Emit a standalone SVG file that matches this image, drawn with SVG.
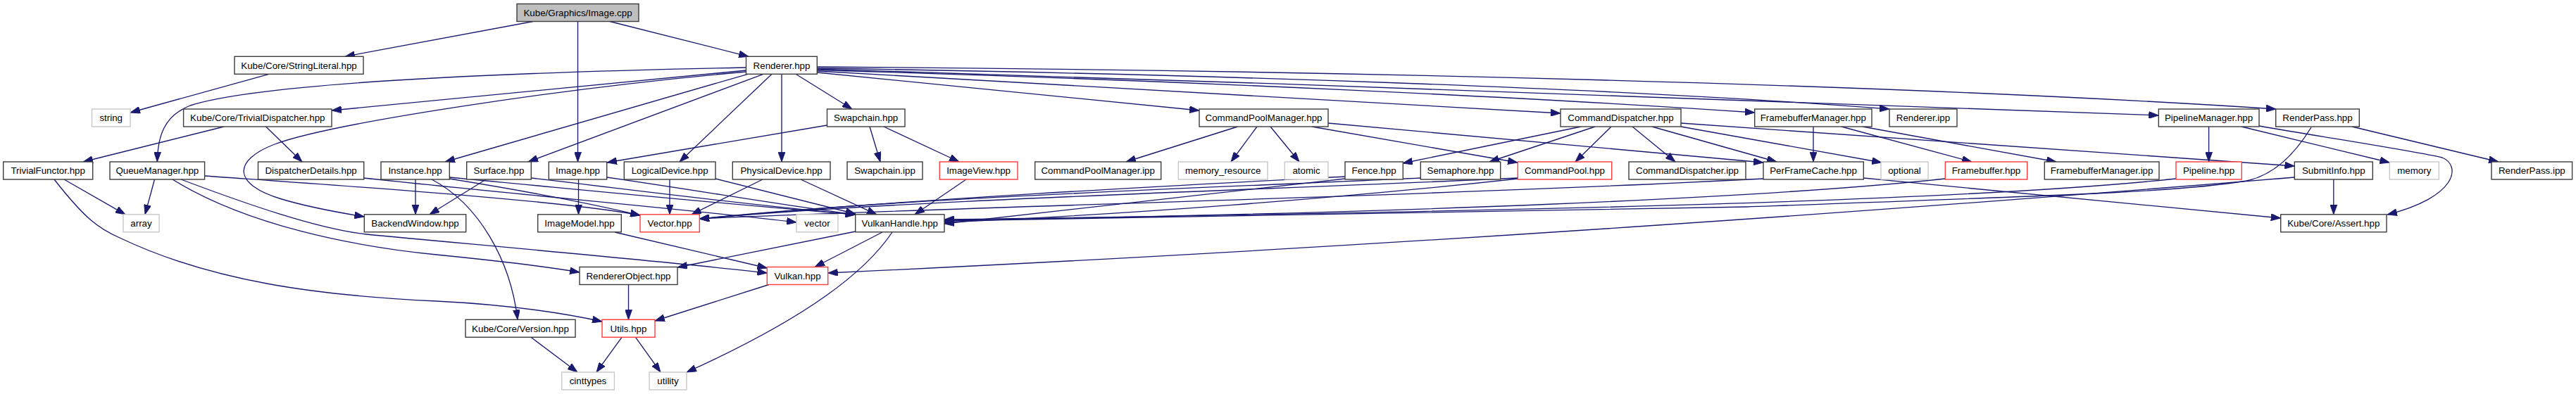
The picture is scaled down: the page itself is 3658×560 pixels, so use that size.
<svg xmlns="http://www.w3.org/2000/svg" width="3658" height="560" viewBox="0 0 3658 560">
<style>
.node rect{fill:#ffffff;stroke:#3c3c3c;stroke-width:1.4}
.node.red rect{stroke:#ff3a3a}
.node.gray rect{stroke:#c8c8c8}
.node.root rect{fill:#bfbfbf}
.node text{font-family:"Liberation Sans",Arial,Helvetica,sans-serif;font-size:13.33px;text-anchor:middle;fill:#000}
.edges path{fill:none;stroke:#191970;stroke-width:1.33;marker-end:url(#arr)}
</style>
<defs>
<marker id="arr" markerUnits="userSpaceOnUse" markerWidth="14" markerHeight="10" viewBox="0 0 13 9.4" refX="13" refY="4.7" orient="auto">
<path d="M0,0 L13,4.7 L0,9.4 z" fill="#191970" stroke="#191970" stroke-width="0.8"/>
</marker>
</defs>
<rect x="0" y="0" width="3658" height="560" fill="#ffffff"/>
<g class="edges" id="edges">
<path d="M757,30.5 L490,80.3"/>
<path d="M820.5,30.5 L820.5,230"/>
<path d="M866,30.5 L1063,80.3"/>
<path d="M382,105.3 L185,160"/>
<path d="M1059.5,96 C760,102 380,115 270,150 C232,165 224,195 223.3,230"/>
<path d="M1059.5,100 L471,157"/>
<path d="M1059.5,102 C800,125 470,175 390,205 C330,228 330,262 400,283 C440,295 480,302 517.3,308"/>
<path d="M1062,105.3 L632,230"/>
<path d="M1084,105.3 L750,230"/>
<path d="M1096,105.3 L965,230"/>
<path d="M1110,105.3 L1110,230"/>
<path d="M1130,105.3 L1210,155"/>
<path d="M1160.3,103 L1703,157"/>
<path d="M1160.3,101 L2216,161"/>
<path d="M1160.3,99.5 C1700,115 2200,140 2491.7,160"/>
<path d="M1160.3,97 C1700,105 2300,125 2683,155"/>
<path d="M1160.3,98 C1800,118 2600,145 3065.3,164"/>
<path d="M1160.3,95 C1900,100 2700,120 3232,155"/>
<path d="M1174.5,178 L862,231"/>
<path d="M1235,180 L1250,230"/>
<path d="M1255,180 L1362,230"/>
<path d="M1757.5,180 L1599,230"/>
<path d="M1785,180 L1748,230"/>
<path d="M1804,180 L1845,230"/>
<path d="M1863,180 L2155,231"/>
<path d="M1886,175 L2504,231"/>
<path d="M2245,180 L1992,232"/>
<path d="M2265,180 L2115,230"/>
<path d="M2288,180 L2237,230"/>
<path d="M2318,180 L2379,230"/>
<path d="M2346,180 L2523,230"/>
<path d="M2387,180 L2672,231"/>
<path d="M2387,175 C2700,195 3000,218 3258.3,236"/>
<path d="M2575,180 L2575,230"/>
<path d="M2615,180 L2800,230"/>
<path d="M2645,180 L2920,230"/>
<path d="M3136.6,180 L3136.6,230"/>
<path d="M3183,180 L3393.3,231"/>
<path d="M3208,179 C3300,195 3430,215 3468,224 C3495,235 3490,280 3390,305"/>
<path d="M3340,180 L3548,230"/>
<path d="M3282,181 C3255,225 3225,250 3190,257 C3100,272 2980,276 2480,294 L1341,314"/>
<path d="M3090,254 C2800,285 2200,300 1341,312"/>
<path d="M3258.3,252 C2800,290 2000,350 1175.7,388"/>
<path d="M3313.8,255 L3313.8,304.8"/>
<path d="M2646.3,253 L3238.7,310"/>
<path d="M2504,254 C2000,280 1300,296 993.3,311"/>
<path d="M2017.3,253 C1700,268 1300,280 993.3,311"/>
<path d="M2155.3,253 C1800,270 1300,283 993.3,311"/>
<path d="M1910,251 C1700,262 1300,282 993.3,311"/>
<path d="M1910,254 L1341,318"/>
<path d="M2155.3,254 C1900,282 1600,305 1341,316"/>
<path d="M2762.3,254 C2500,282 2000,303 1341,313"/>
<path d="M290.6,250 C500,265 800,285 909,306"/>
<path d="M516.7,253 C750,278 1000,300 1131,316"/>
<path d="M638.3,252 C850,272 1050,292 1214.7,305"/>
<path d="M638.3,254 C750,272 850,292 909,306"/>
<path d="M754.3,253 C900,270 1050,290 1214.7,305"/>
<path d="M861.7,252 C1000,272 1100,290 1214.7,305"/>
<path d="M1016,254 L1214.7,304"/>
<path d="M1137,255 L1245,304.8"/>
<path d="M1372,255 L1299,304.8"/>
<path d="M873,330 L1089.3,381"/>
<path d="M1253,330 L1157,379.5"/>
<path d="M1214.7,329 L962,380"/>
<path d="M1267,330 C1230,385 1150,450 975,529"/>
<path d="M245,255 C350,320 500,350 620,362 C700,370 770,378 823,387"/>
<path d="M257,255 C350,290 450,325 520,333 C700,350 950,372 1089.3,388"/>
<path d="M892.5,404.5 L892.5,454.3"/>
<path d="M1092,404.5 L930,456"/>
<path d="M77,255 C120,310 140,325 170,338 C300,400 450,420 620,428 C720,433 800,445 855,457"/>
<path d="M91,255 L178,304.8"/>
<path d="M219.5,255 L206,304.8"/>
<path d="M590,255 L590,304.8"/>
<path d="M690,255 L610,304.8"/>
<path d="M613,255 C680,290 725,370 735,454.3"/>
<path d="M821.5,255 L821.5,304.8"/>
<path d="M951,255 L951,304.8"/>
<path d="M1083,255 L982,304.8"/>
<path d="M883,479.3 L847,529"/>
<path d="M902.5,479.3 L938,529"/>
<path d="M754,479.3 L820,529"/>
<path d="M318,180 L118,230"/>
<path d="M377.6,180 L429,230"/>
</g>
<g id="n_image_cpp" class="node root"><rect x="734" y="5.5" width="173" height="25"/><text x="820.5" y="22.7">Kube/Graphics/Image.cpp</text></g>
<g id="n_stringliteral" class="node"><rect x="333" y="80.3" width="183" height="25"/><text x="424.5" y="97.5">Kube/Core/StringLiteral.hpp</text></g>
<g id="n_renderer" class="node"><rect x="1059.5" y="80.3" width="100.8" height="25"/><text x="1110" y="97.5">Renderer.hpp</text></g>
<g id="n_string" class="node gray"><rect x="130.5" y="155" width="54.5" height="25"/><text x="157.7" y="172.2">string</text></g>
<g id="n_trivialdispatcher" class="node"><rect x="260.6" y="155" width="210.4" height="25"/><text x="365.8" y="172.2">Kube/Core/TrivialDispatcher.hpp</text></g>
<g id="n_swapchain" class="node"><rect x="1174.5" y="155" width="110.5" height="25"/><text x="1229.7" y="172.2">Swapchain.hpp</text></g>
<g id="n_cpm" class="node"><rect x="1703" y="155" width="183" height="25"/><text x="1794.5" y="172.2">CommandPoolManager.hpp</text></g>
<g id="n_cd" class="node"><rect x="2216" y="155" width="171" height="25"/><text x="2301.5" y="172.2">CommandDispatcher.hpp</text></g>
<g id="n_fbm" class="node"><rect x="2491.7" y="155" width="166.3" height="25"/><text x="2574.8" y="172.2">FramebufferManager.hpp</text></g>
<g id="n_renderer_ipp" class="node"><rect x="2683" y="155" width="96" height="25"/><text x="2731" y="172.2">Renderer.ipp</text></g>
<g id="n_pm" class="node"><rect x="3065.3" y="155" width="142.7" height="25"/><text x="3136.6" y="172.2">PipelineManager.hpp</text></g>
<g id="n_renderpass" class="node"><rect x="3231.7" y="155" width="118.6" height="25"/><text x="3291" y="172.2">RenderPass.hpp</text></g>
<g id="n_trivialfunctor" class="node"><rect x="4.7" y="230" width="127" height="25"/><text x="68.2" y="247.2">TrivialFunctor.hpp</text></g>
<g id="n_queuemanager" class="node"><rect x="156" y="230" width="134.6" height="25"/><text x="223.3" y="247.2">QueueManager.hpp</text></g>
<g id="n_dispatcherdetails" class="node"><rect x="366.5" y="230" width="150.2" height="25"/><text x="441.6" y="247.2">DispatcherDetails.hpp</text></g>
<g id="n_instance" class="node"><rect x="541" y="230" width="97.3" height="25"/><text x="589.6" y="247.2">Instance.hpp</text></g>
<g id="n_surface" class="node"><rect x="662.7" y="230" width="91.6" height="25"/><text x="708.5" y="247.2">Surface.hpp</text></g>
<g id="n_image_hpp" class="node"><rect x="779.3" y="230" width="82.4" height="25"/><text x="820.5" y="247.2">Image.hpp</text></g>
<g id="n_logicaldevice" class="node"><rect x="886.3" y="230" width="129.7" height="25"/><text x="951.1" y="247.2">LogicalDevice.hpp</text></g>
<g id="n_physicaldevice" class="node"><rect x="1040.3" y="230" width="138.7" height="25"/><text x="1109.6" y="247.2">PhysicalDevice.hpp</text></g>
<g id="n_swapchain_ipp" class="node"><rect x="1203" y="230" width="107" height="25"/><text x="1256.5" y="247.2">Swapchain.ipp</text></g>
<g id="n_imageview" class="node red"><rect x="1334.3" y="230" width="110.7" height="25"/><text x="1389.6" y="247.2">ImageView.hpp</text></g>
<g id="n_cpm_ipp" class="node"><rect x="1469.7" y="230" width="179" height="25"/><text x="1559.2" y="247.2">CommandPoolManager.ipp</text></g>
<g id="n_memory_resource" class="node gray"><rect x="1673.3" y="230" width="126.7" height="25"/><text x="1736.6" y="247.2">memory_resource</text></g>
<g id="n_atomic" class="node gray"><rect x="1824.3" y="230" width="61.7" height="25"/><text x="1855.1" y="247.2">atomic</text></g>
<g id="n_fence" class="node"><rect x="1910" y="230" width="82.3" height="25"/><text x="1951.1" y="247.2">Fence.hpp</text></g>
<g id="n_semaphore" class="node"><rect x="2017.3" y="230" width="113.4" height="25"/><text x="2074" y="247.2">Semaphore.hpp</text></g>
<g id="n_commandpool" class="node red"><rect x="2155.3" y="230" width="133.4" height="25"/><text x="2222" y="247.2">CommandPool.hpp</text></g>
<g id="n_cd_ipp" class="node"><rect x="2313" y="230" width="166" height="25"/><text x="2396" y="247.2">CommandDispatcher.ipp</text></g>
<g id="n_perframecache" class="node"><rect x="2504" y="230" width="142.3" height="25"/><text x="2575.1" y="247.2">PerFrameCache.hpp</text></g>
<g id="n_optional" class="node gray"><rect x="2671" y="230" width="67" height="25"/><text x="2704.5" y="247.2">optional</text></g>
<g id="n_framebuffer" class="node red"><rect x="2762.3" y="230" width="116.4" height="25"/><text x="2820.5" y="247.2">Framebuffer.hpp</text></g>
<g id="n_fbm_ipp" class="node"><rect x="2903.3" y="230" width="162.7" height="25"/><text x="2984.6" y="247.2">FramebufferManager.ipp</text></g>
<g id="n_pipeline" class="node red"><rect x="3090" y="230" width="93.3" height="25"/><text x="3136.6" y="247.2">Pipeline.hpp</text></g>
<g id="n_submitinfo" class="node"><rect x="3258.3" y="230" width="111" height="25"/><text x="3313.8" y="247.2">SubmitInfo.hpp</text></g>
<g id="n_memory" class="node gray"><rect x="3393.3" y="230" width="70" height="25"/><text x="3428.3" y="247.2">memory</text></g>
<g id="n_renderpass_ipp" class="node"><rect x="3538" y="230" width="114.6" height="25"/><text x="3595.3" y="247.2">RenderPass.ipp</text></g>
<g id="n_array" class="node gray"><rect x="175" y="304.8" width="51" height="25"/><text x="200.5" y="322">array</text></g>
<g id="n_backendwindow" class="node"><rect x="517.3" y="304.8" width="144.4" height="25"/><text x="589.5" y="322">BackendWindow.hpp</text></g>
<g id="n_imagemodel" class="node"><rect x="763.7" y="304.8" width="118.6" height="25"/><text x="823" y="322">ImageModel.hpp</text></g>
<g id="n_vector_hpp" class="node red"><rect x="909" y="304.8" width="84.3" height="25"/><text x="951.1" y="322">Vector.hpp</text></g>
<g id="n_vector" class="node gray"><rect x="1131" y="304.8" width="59" height="25"/><text x="1160.5" y="322">vector</text></g>
<g id="n_vulkanhandle" class="node"><rect x="1214.7" y="304.8" width="126.3" height="25"/><text x="1277.8" y="322">VulkanHandle.hpp</text></g>
<g id="n_assert" class="node"><rect x="3238.7" y="304.8" width="150.3" height="25"/><text x="3313.8" y="322">Kube/Core/Assert.hpp</text></g>
<g id="n_rendererobject" class="node"><rect x="823" y="379.5" width="139" height="25"/><text x="892.5" y="396.7">RendererObject.hpp</text></g>
<g id="n_vulkan" class="node red"><rect x="1089.3" y="379.5" width="86.4" height="25"/><text x="1132.5" y="396.7">Vulkan.hpp</text></g>
<g id="n_version" class="node"><rect x="661" y="454.3" width="156" height="25"/><text x="739" y="471.5">Kube/Core/Version.hpp</text></g>
<g id="n_utils" class="node red"><rect x="855" y="454.3" width="75" height="25"/><text x="892.5" y="471.5">Utils.hpp</text></g>
<g id="n_cinttypes" class="node gray"><rect x="797.7" y="529" width="74.7" height="25"/><text x="835" y="546.2">cinttypes</text></g>
<g id="n_utility" class="node gray"><rect x="922" y="529" width="53" height="25"/><text x="948.5" y="546.2">utility</text></g>
</svg>
